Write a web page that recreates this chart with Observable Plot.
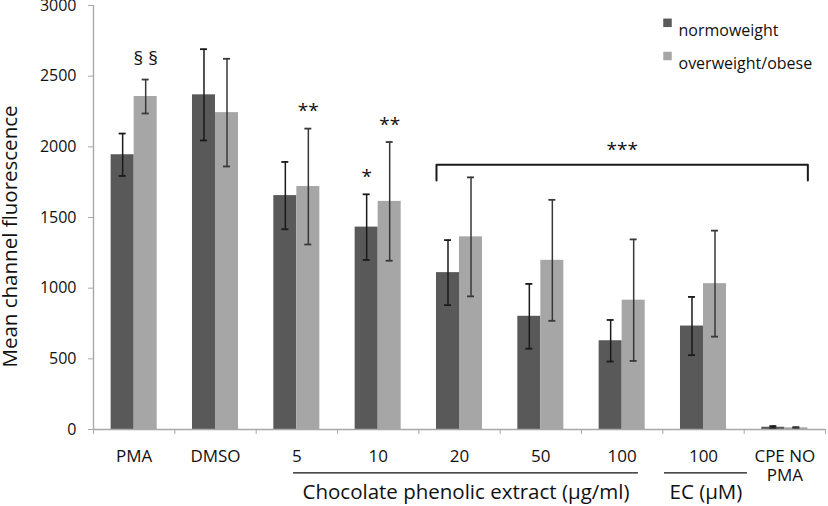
<!DOCTYPE html>
<html><head><meta charset="utf-8">
<script src="https://cdn.jsdelivr.net/npm/d3@7"></script>
<script src="https://cdn.jsdelivr.net/npm/@observablehq/plot@0.6"></script>
<style>body{margin:0;background:#fff}</style>
</head><body><div id="chart"></div>
<script>
const categories = ["PMA", "DMSO", "5", "10", "20", "50", "100", "100", "CPE NO\nPMA"];
const seriesNames = ["normoweight", "overweight/obese"];
const normoweight    = [1944, 2368, 1655, 1432, 1110, 801, 628, 732, 16];
const normoweightErr = [150, 323, 238, 232, 230, 229, 147, 206, 8];
const overweight     = [2356, 2242, 1719, 1614, 1363, 1197, 915, 1032, 12];
const overweightErr  = [120, 381, 410, 420, 421, 428, 430, 375, 5];
const yTicks = [0, 500, 1000, 1500, 2000, 2500, 3000];
const annotations = [
  {cat: 0, series: "overweight/obese", label: "§ §"},
  {cat: 2, series: "overweight/obese", label: "**"},
  {cat: 3, series: "normoweight", label: "*"},
  {cat: 3, series: "overweight/obese", label: "**"}
];
const bracket = {from: 4, to: 8, label: "***", top: 1873, end: 1762};
const groups = [
  {label: "Chocolate phenolic extract (μg/ml)", from: 2.46, to: 6.70},
  {label: "EC (μM)", from: 7.02, to: 8.04}
];
const colors = ["#595959", "#a6a6a6"];
const errColors = ["#1a1a1a", "#383838"];

const barW = 0.283;
const capW = 0.043;
const rows = categories.flatMap((c, i) => [
  {i, series: seriesNames[0], k: 0, value: normoweight[i], err: normoweightErr[i]},
  {i, series: seriesNames[1], k: 1, value: overweight[i], err: overweightErr[i]}
]);
const x1 = d => d.i + 0.5 + (d.k - 1) * barW;
const cx = d => d.i + 0.5 + (d.k - 0.5) * barW;

const annRows = annotations.map(a => {
  const r = rows.find(d => d.i === a.cat && d.series === a.series);
  return {...a, x: cx(r), y: r.value + r.err};
});
const bl = bracket.from + 0.5 - barW, br = bracket.to + 0.5 + barW;
const bracketPts = [
  {x: bl, y: bracket.end}, {x: bl, y: bracket.top},
  {x: br, y: bracket.top}, {x: br, y: bracket.end}
];
const gray = "#a8a8a8";
const catLines = categories.flatMap((c, i) => c.split("\n").map((t, j) => ({i, t, j})));

const chart = Plot.plot({
  width: 828, height: 506,
  marginLeft: 93, marginRight: 3, marginTop: 5, marginBottom: 77,
  x: {type: "linear", domain: [0, categories.length], axis: null},
  y: {domain: [0, 3000], axis: null},
  color: {domain: seriesNames, range: colors},
  style: {fontFamily: "'Open Sans', sans-serif", background: "#fff", color: "#111", overflow: "visible"},
  marks: [
    Plot.rectY(rows, {x1, x2: d => x1(d) + barW, y1: 0, y2: "value", fill: "series"}),
    ...seriesNames.flatMap((s, k) => {
      const data = rows.filter(d => d.k === k);
      return [
        Plot.ruleX(data, {x: cx, y1: d => d.value - d.err, y2: d => d.value + d.err, stroke: errColors[k], strokeWidth: 1.5}),
        Plot.ruleY(data, {x1: d => cx(d) - capW, x2: d => cx(d) + capW, y: d => d.value + d.err, stroke: errColors[k], strokeWidth: 1.8}),
        Plot.ruleY(data, {x1: d => cx(d) - capW, x2: d => cx(d) + capW, y: d => d.value - d.err, stroke: errColors[k], strokeWidth: 1.8})
      ];
    }),
    Plot.ruleX([0], {stroke: gray, strokeWidth: 1.4}),
    Plot.ruleY([0], {stroke: gray, strokeWidth: 1.4}),
    Plot.axisY({ticks: yTicks, tickSize: 5, tickPadding: 12, tickFormat: d => String(d), stroke: gray, fill: "#111", fontSize: 16, label: null}),
    Plot.axisX({ticks: d3.range(0, categories.length + 1), tickSize: 5, tickFormat: () => null, stroke: gray, label: null}),
    ...[0, 1].map(j => Plot.text(catLines.filter(d => d.j === j), {x: d => d.i + 0.5, text: "t", frameAnchor: "bottom", dy: 20 + 19 * j, lineAnchor: "top", fontSize: 17, fill: "#111"})),
    Plot.ruleY(groups, {x1: "from", x2: "to", y: () => 0, dy: 43.3, stroke: "#111", strokeWidth: 1.3}),
    Plot.text(groups, {x: d => (d.from + d.to) / 2, text: "label", frameAnchor: "bottom", dy: 62.7, lineAnchor: "middle", fontSize: 20.5, fill: "#111"}),
    Plot.text(["Mean channel fluorescence"], {text: d => d, frameAnchor: "left", textAnchor: "middle", dx: -83, dy: 19, rotate: -90, fontSize: 20.5, fill: "#111"}),
    Plot.text(annRows.filter(d => d.label.includes("§")), {x: "x", y: "y", text: "label", dy: -21, fontSize: 19, fill: "#111"}),
    Plot.text(annRows.filter(d => !d.label.includes("§")), {x: "x", y: "y", text: "label", dy: -17.5, fontSize: 19, fill: "#111"}),
    Plot.line(bracketPts, {x: "x", y: "y", stroke: "#1a1a1a", strokeWidth: 2, strokeLinejoin: "round"}),
    Plot.text([bracket], {x: (bl + br) / 2, y: "top", text: "label", dy: -14.6, fontSize: 19, fill: "#111"}),
    ...seriesNames.flatMap((s, k) => [
      Plot.dot([s], {frameAnchor: "top-left", dx: 574, dy: 17.3 + 33.2 * k, symbol: "square", r: 4.8, fill: colors[k]}),
      Plot.text([s], {text: d => d, frameAnchor: "top-left", dx: 585, dy: 19.2 + 33.2 * k, textAnchor: "start", fontSize: 16, fill: "#111"})
    ])
  ]
});
document.getElementById("chart").appendChild(chart);
</script>
</body></html>
